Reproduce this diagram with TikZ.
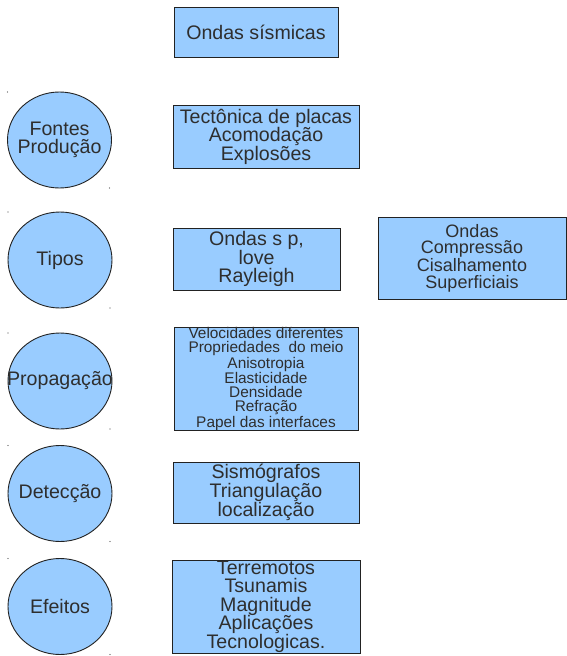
\documentclass[tikz,border=0pt]{standalone}
\usepackage{fontspec}
\setmainfont{Liberation Sans}
\usetikzlibrary{shapes.geometric}
\definecolor{boxfill}{HTML}{99CCFF}
\definecolor{txt}{HTML}{2E2E2E}
\definecolor{edge}{HTML}{222222}
\tikzset{
  bx/.style={draw=edge, line width=1pt, fill=boxfill, rectangle, inner sep=0pt,
    align=center, text=txt, font=\fontsize{19.6}{18.4}\selectfont},
  circ/.style={draw=edge, line width=0.9pt, fill=boxfill, ellipse, inner sep=0pt,
    minimum width=104pt, minimum height=96pt},
  ctext/.style={inner sep=0pt, align=center, text=txt, font=\fontsize{19.6}{18.4}\selectfont},
  dotmark/.style={fill=black!70, draw=none, circle, inner sep=0pt, minimum size=1.3pt}
}
\begin{document}
\begin{tikzpicture}[x=1pt,y=1pt]
\useasboundingbox (0,0) rectangle (567,-656);
\fill[white] (0,0) rectangle (567,-656);

% boxes
\node[bx, minimum width=164pt, minimum height=50pt] (title) at (256,-32) {Ondas sísmicas};
\node[bx, minimum width=186pt, minimum height=63pt] (fontesb) at (266,-136.5)
  {Tectônica de placas\\Acomodação\\Explosões};
\node[bx, minimum width=167pt, minimum height=62pt, font=\fontsize{19.6}{17.8}\selectfont] (tiposb) at (256.5,-259)
  {Ondas s p,\\love\\Rayleigh};
\node[bx, minimum width=188pt, minimum height=82pt, font=\fontsize{18}{16.6}\selectfont] (tiposc) at (472,-258)
  {Ondas\\Compressão\\Cisalhamento\\Superficiais};
\node[bx, minimum width=184pt, minimum height=98pt, font=\fontsize{15.4}{14.1}\selectfont] (propb) at (266,-379)
  {Velocidades diferentes\\Propriedades\ \ do meio\\Anisotropia\\Elasticidade\\Densidade\\Refração\\Papel das interfaces};
\node[bx, minimum width=186pt, minimum height=61pt, font=\fontsize{19.6}{18.8}\selectfont] (detb) at (266,-492.5)
  {Sismógrafos\\Triangulação\\localização};
\node[bx, minimum width=188pt, minimum height=93pt] (efb) at (266,-606.5)
  {Terremotos\\Tsunamis\\Magnitude\\Aplicações\\Tecnologicas.};

% circles
\node[circ] (fontes) at (59.5,-140) {};
\node[circ] (tipos) at (60,-260) {};
\node[circ] (prop) at (60,-381) {};
\node[circ] (det) at (60,-493.5) {};
\node[circ] (ef) at (60,-606.5) {};
\node[ctext] (fontesT) at (fontes.center) {Fontes\\Produção};
\node[ctext] (tiposT) at (tipos.center) {Tipos};
\node[ctext] (propT) at (prop.center) {Propagação};
\node[ctext] (detT) at (det.center) {Detecção};
\node[ctext] (efT) at (ef.center) {Efeitos};

% small corner dots
\foreach \c in {fontes,tipos,prop,det,ef}{
  \node[dotmark] at ([shift={(-52,48)}]\c.center) {};
  \node[dotmark] at ([shift={(50,-48)}]\c.center) {};
}
\end{tikzpicture}
\end{document}
